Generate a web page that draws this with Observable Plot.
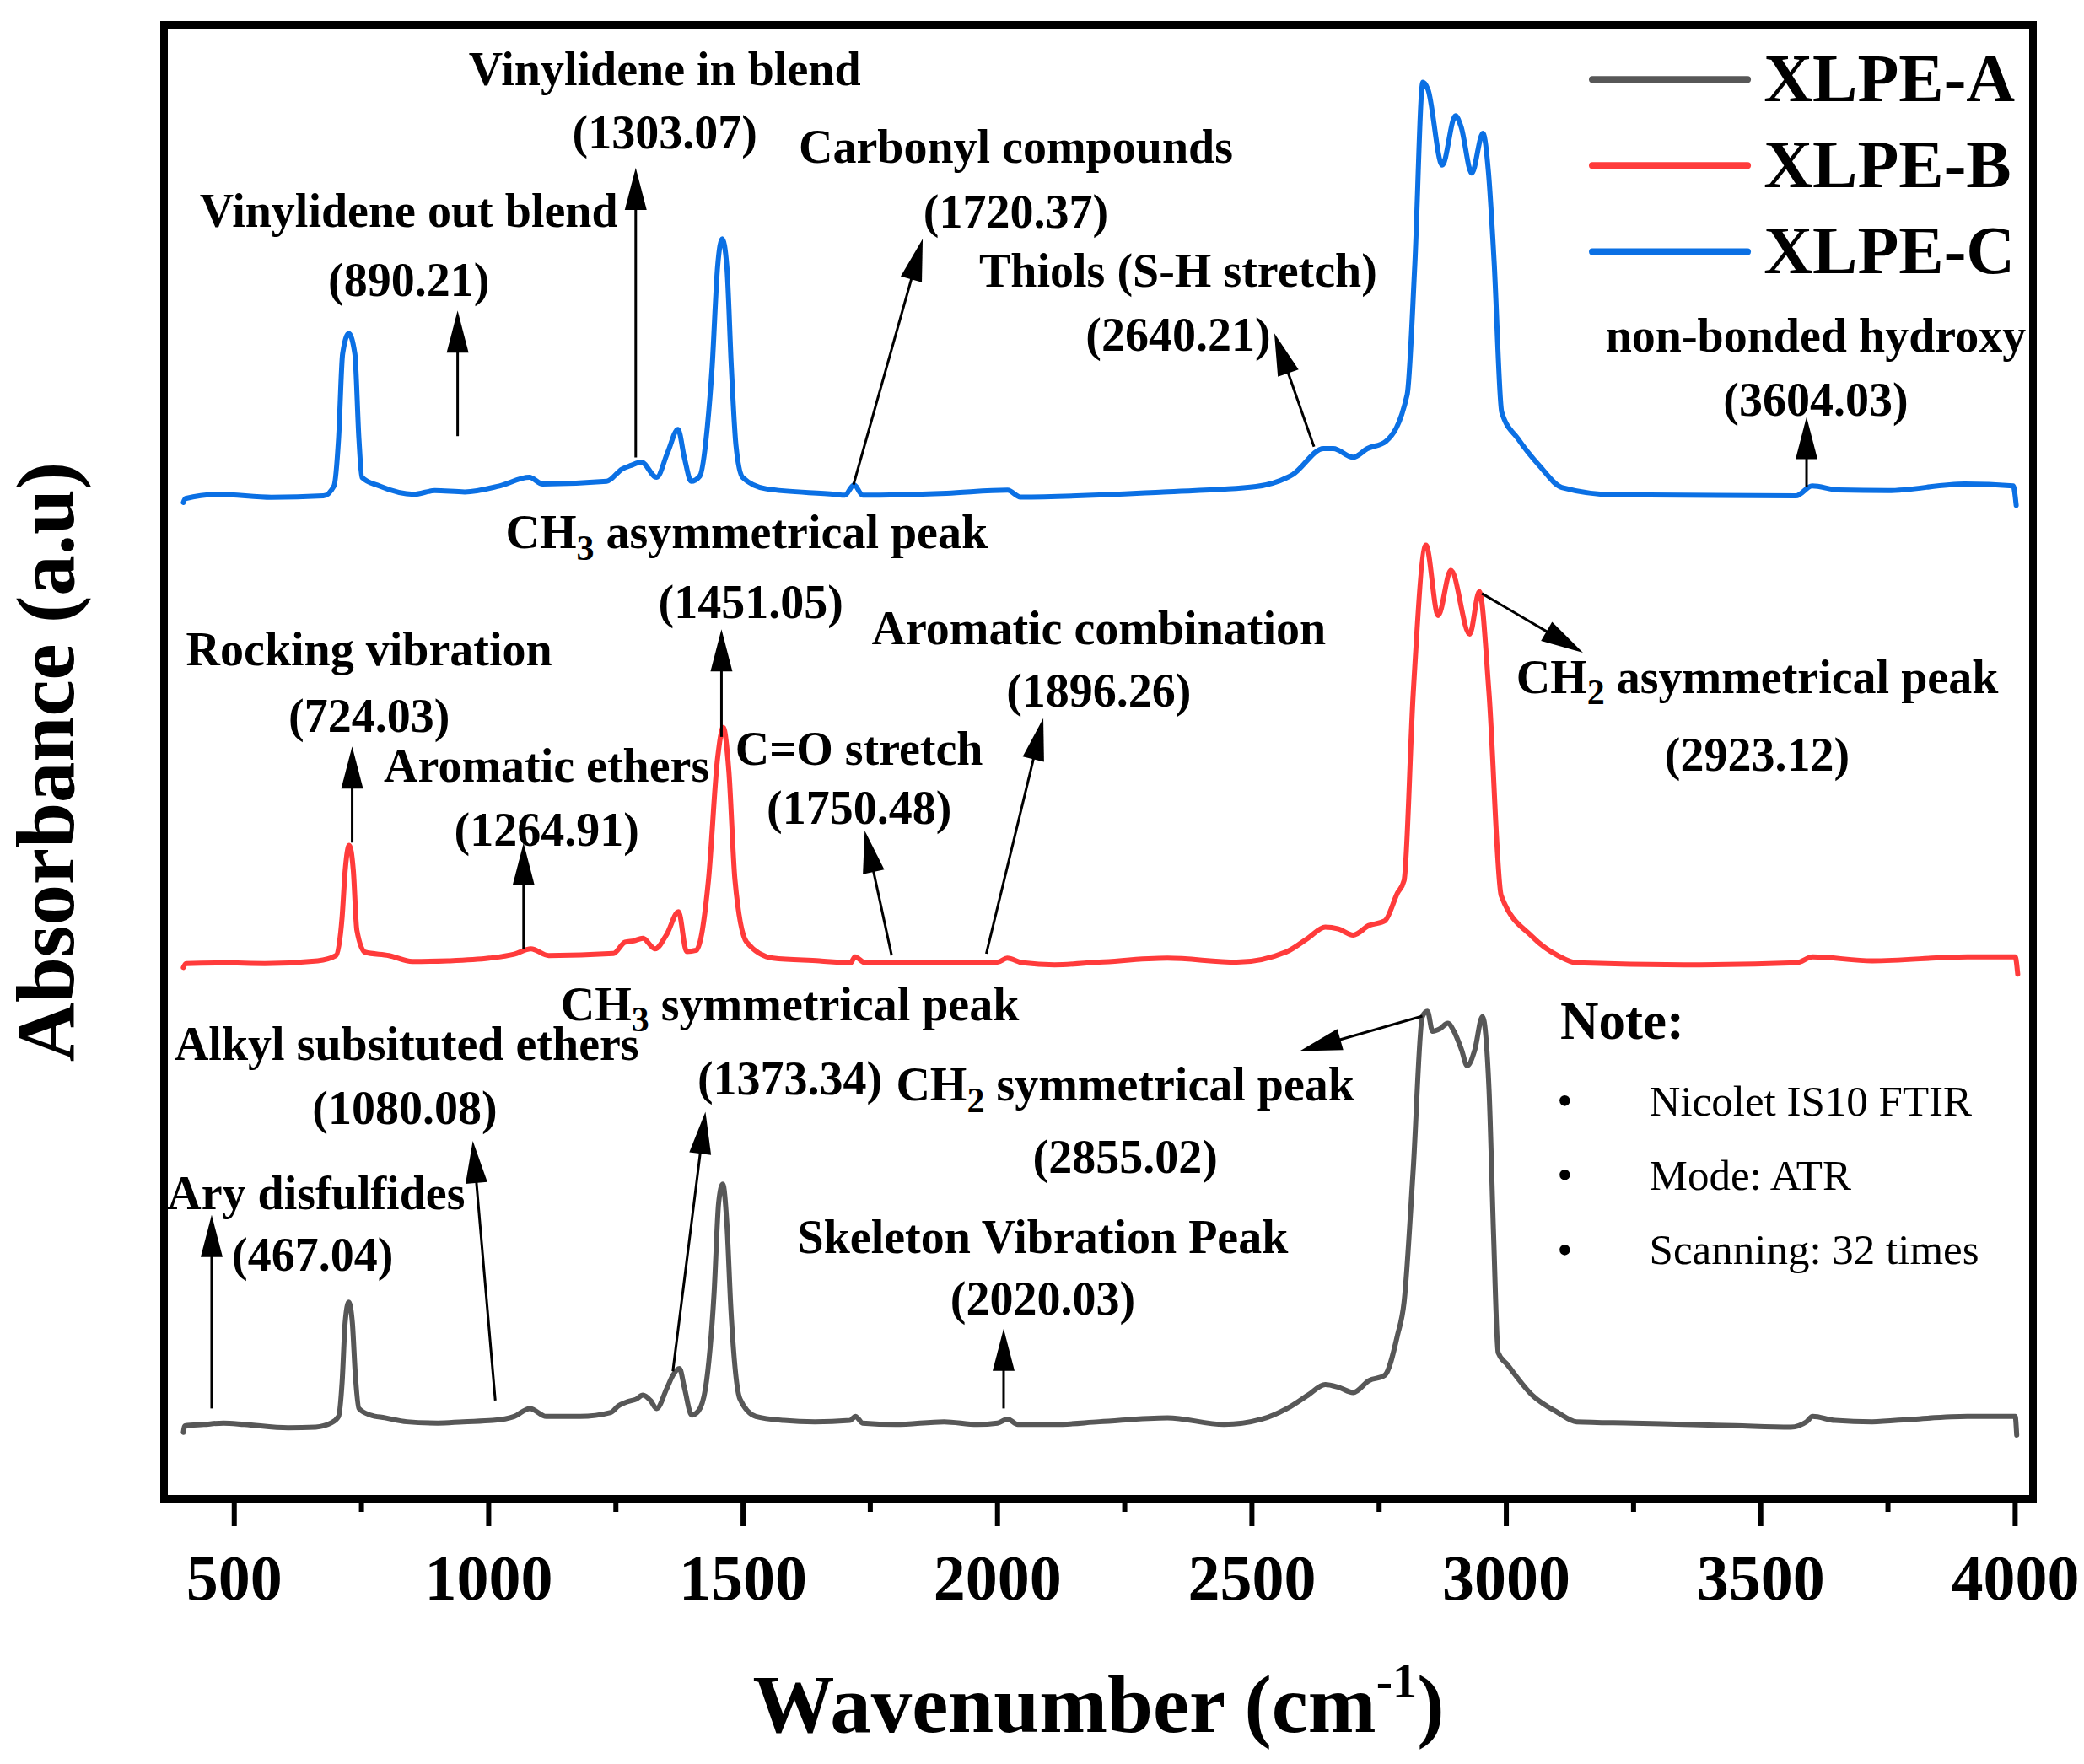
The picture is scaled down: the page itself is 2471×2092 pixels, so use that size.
<!DOCTYPE html>
<html>
<head>
<meta charset="utf-8">
<script src="https://cdn.jsdelivr.net/npm/d3@7"></script>
<script src="https://cdn.jsdelivr.net/npm/@observablehq/plot@0.6"></script>
<style>
  html, body { margin: 0; padding: 0; background: #ffffff; }
  #chart svg { display: block; }
</style>
</head>
<body>
<div id="chart"></div>
<script>
// ---------------- DATA ----------------
const seriesNames = ["XLPE-A", "XLPE-B", "XLPE-C"];
const seriesColors = ["#575757", "#ff3b3b", "#0b70e4"];

// XLPE-A (grey, bottom spectrum) : wavenumber (cm-1) and absorbance (a.u., offset)
const wnA = [400,403,440,479,520,606,660,690,705,712,718,725,732,738,745,768,796,839,900,950,1008,1050,1081,1113,1180,1240,1255,1272,1290,1303,1318,1330,1350,1362,1375,1385,1399,1412,1426,1443,1452,1460,1468,1476,1494,1525,1580,1641,1710,1721,1735,1800,1895,1960,2000,2020,2040,2112,2200,2334,2445,2520,2569,2610,2644,2670,2699,2730,2761,2786,2799,2817,2835,2845,2855,2870,2885,2897,2912,2923,2938,2953,2966,2975,2984,3002,3051,3101,3138,3250,3349,3450,3559,3590,3602,3646,3719,3800,3906,4000,4003];
const absA = [0.050,0.055,0.056,0.057,0.056,0.0535,0.054,0.057,0.062,0.088,0.133,0.148,0.133,0.093,0.068,0.063,0.061,0.058,0.057,0.058,0.059,0.062,0.068,0.062,0.062,0.065,0.070,0.073,0.075,0.078,0.074,0.068,0.083,0.093,0.098,0.083,0.063,0.066,0.083,0.155,0.223,0.237,0.208,0.143,0.075,0.062,0.059,0.058,0.059,0.062,0.057,0.056,0.058,0.056,0.057,0.060,0.056,0.056,0.058,0.061,0.056,0.060,0.068,0.078,0.086,0.084,0.080,0.089,0.093,0.123,0.148,0.248,0.363,0.367,0.352,0.354,0.358,0.352,0.338,0.326,0.338,0.363,0.308,0.198,0.110,0.101,0.078,0.065,0.058,0.057,0.056,0.055,0.054,0.058,0.062,0.059,0.058,0.060,0.062,0.062,0.048];

// XLPE-B (red, middle spectrum)
const wnB = [400,405,478,560,664,700,712,718,726,734,741,757,804,850,920,1001,1050,1083,1118,1245,1268,1285,1303,1327,1350,1373,1389,1408,1432,1450,1461,1472,1484,1507,1559,1650,1711,1720,1740,1897,2000,2019,2050,2112,2200,2334,2470,2569,2610,2644,2670,2699,2730,2761,2786,2799,2817,2842,2866,2891,2928,2947,2966,2990,3051,3101,3138,3349,3570,3602,3719,3906,4000,4005];
const absB = [0.400,0.403,0.4035,0.403,0.405,0.409,0.438,0.473,0.492,0.473,0.428,0.4115,0.409,0.4045,0.405,0.407,0.410,0.414,0.409,0.4105,0.419,0.420,0.422,0.414,0.425,0.442,0.412,0.413,0.466,0.558,0.5806,0.548,0.466,0.419,0.407,0.405,0.4035,0.408,0.4035,0.4035,0.404,0.407,0.4035,0.402,0.404,0.407,0.404,0.412,0.422,0.4304,0.429,0.4244,0.4316,0.435,0.456,0.4655,0.6064,0.718,0.665,0.699,0.651,0.683,0.6064,0.454,0.4232,0.409,0.4035,0.402,0.4035,0.408,0.405,0.408,0.408,0.395];

// XLPE-C (blue, top spectrum)
const wnC = [400,404,471,573,675,696,705,713,725,737,745,751,785,853,894,953,1021,1080,1106,1232,1262,1280,1300,1330,1352,1372,1385,1398,1415,1430,1439,1450,1459,1468,1477,1486,1499,1545,1681,1700,1718,1735,1900,2020,2045,2326,2508,2581,2641,2660,2699,2727,2763,2805,2820,2836,2846,2874,2900,2911,2932,2954,2965,2976,2991,3023,3066,3109,3216,3569,3601,3652,3750,3901,3996,4002];
const absC = [0.750,0.753,0.7562,0.754,0.755,0.7625,0.798,0.862,0.8772,0.862,0.798,0.769,0.7625,0.7562,0.759,0.758,0.7625,0.769,0.764,0.766,0.7752,0.778,0.7805,0.769,0.788,0.805,0.783,0.766,0.770,0.808,0.8513,0.928,0.9486,0.928,0.8513,0.793,0.769,0.7604,0.7562,0.7555,0.7634,0.7555,0.757,0.7593,0.7542,0.758,0.762,0.7713,0.7906,0.7906,0.7841,0.7906,0.796,0.831,0.928,1.0664,1.061,1.004,1.0412,1.033,0.998,1.028,0.998,0.9313,0.818,0.798,0.7773,0.7614,0.7558,0.755,0.7625,0.7595,0.759,0.764,0.7625,0.748];

// Axis ticks
const majorTicks = [500, 1000, 1500, 2000, 2500, 3000, 3500, 4000];
const minorTicks = [750, 1250, 1750, 2250, 2750, 3250, 3750];

// Annotations: band names and band positions (text)
const annNames = ["Vinylidene in blend", "Vinylidene out blend", "Carbonyl compounds", "Thiols (S-H stretch)", "non-bonded hydroxy", "CH3 asymmetrical peak", "Rocking vibration", "Aromatic ethers", "C=O stretch", "Aromatic combination", "CH2 asymmetrical peak", "CH3 symmetrical peak", "Alkyl subsituted ethers", "Ary disfulfides", "CH2 symmetrical peak", "Skeleton Vibration Peak"];
const annValues = ["(1303.07)", "(890.21)", "(1720.37)", "(2640.21)", "(3604.03)", "(1451.05)", "(724.03)", "(1264.91)", "(1750.48)", "(1896.26)", "(2923.12)", "(1373.34)", "(1080.08)", "(467.04)", "(2855.02)", "(2020.03)"];
// annotation layout in data coordinates [wavenumber, absorbance]
const annNamePos = [[1346,1.0754],[843,0.969],[2036,1.017],[2355,0.9236],[3608,0.875],[1507,0.727],[765,0.639],[1114,0.551],[1728,0.564],[2199,0.655],[3493,0.618],[1592,0.3716],[839,0.342],[661,0.2295],[2251,0.311],[2089,0.1965]];
const annValuePos = [[1346,1.028],[843,0.917],[2036,0.968],[2355,0.8755],[3608,0.827],[1515,0.6745],[765,0.589],[1114,0.503],[1728,0.5195],[2199,0.608],[3493,0.5595],[1592,0.316],[835,0.2933],[654,0.183],[2251,0.2565],[2089,0.150]];
const arrowTail = [[1289,0.784],[939,0.800],[1717,0.7635],[2622,0.792],[3590,0.762],[1457.5,0.5736],[731.7,0.494],[1068.6,0.414],[1792,0.409],[1978,0.4104],[2952,0.6815],[1362,0.096],[1013,0.074],[455.6,0.068],[2835,0.3634],[2012,0.068]];
const arrowTip  = [[1289,1.002],[939,0.8945],[1853,0.9486],[2544,0.8774],[3590,0.8145],[1457.5,0.6546],[731.7,0.5664],[1068.6,0.4937],[1739,0.503],[2090,0.5876],[3150.6,0.637],[1426,0.2914],[968.8,0.2695],[455.6,0.2137],[2594,0.337],[2012,0.128]];

// Note box
const noteTitle = "Note:";
const noteItems = ["Nicolet IS10 FTIR", "Mode: ATR", "Scanning: 32 times"];

// Titles
const xTitle = "Wavenumber (cm-1)";
const yTitle = "Absorbance (a.u)";

// ---------------- LAYOUT ----------------
const W = 2471, H = 2092, ML = 194, MR = 61, MT = 29, MB = 315;
const X0 = 362, X1 = 4035, Y0 = 0, Y1 = 1.1096;
const kx = (W - ML - MR) / (X1 - X0);
const ky = (H - MT - MB) / (Y1 - Y0);
const FONT = "'Liberation Serif', 'Times New Roman', Times, serif";

// spectra rows
const rows = [];
[[wnA, absA], [wnB, absB], [wnC, absC]].forEach(([wn, ab], s) => {
  wn.forEach((w, i) => rows.push({series: seriesNames[s], wn: w, abs: ab[i]}));
});

// annotation text rows
const annText = [];
annNames.forEach((n, i) => {
  annText.push({t: n, x: annNamePos[i][0], y: annNamePos[i][1]});
  annText.push({t: annValues[i], x: annValuePos[i][0], y: annValuePos[i][1]});
});

// arrows: shafts + filled triangular heads (computed in pixel space, expressed in data space)
const headLen = 50, headHalf = 13;
const shafts = [], heads = [];
arrowTail.forEach(([x1, y1], i) => {
  const [x2, y2] = arrowTip[i];
  const dxp = (x2 - x1) * kx, dyp = -(y2 - y1) * ky;
  const L = Math.hypot(dxp, dyp);
  const ux = dxp / L, uy = dyp / L;
  const bx = -ux * headLen, by = -uy * headLen;
  const nx = -uy, ny = ux;
  [[0, 0], [bx + nx * headHalf, by + ny * headHalf], [bx - nx * headHalf, by - ny * headHalf]]
    .forEach(([px, py]) => heads.push({id: i, x: x2 + px / kx, y: y2 - py / ky}));
  shafts.push({x1, y1, x2: x2 + (bx * 0.7) / kx, y2: y2 - (by * 0.7) / ky});
});

// legend rows
const legendRows = seriesNames.map((n, i) => ({name: n, color: seriesColors[i], y: 1.0685 - i * 0.0648}));

// note rows
const noteRows = noteItems.map((t, i) => ({t, y: 0.2989 - i * 0.0560}));

const plot = Plot.plot({
  width: W, height: H,
  marginLeft: ML, marginRight: MR, marginTop: MT, marginBottom: MB,
  style: {fontFamily: FONT, background: "#ffffff", color: "#000000"},
  x: {domain: [X0, X1]},
  y: {domain: [Y0, Y1], axis: null},
  color: {domain: seriesNames, range: seriesColors},
  marks: [
    Plot.axisX({ticks: minorTicks, tickSize: 16, tickFormat: () => "", strokeWidth: 6, label: null}),
    Plot.axisX({ticks: majorTicks, tickSize: 33, tickPadding: 33, strokeWidth: 6, fontSize: 76, fontWeight: "bold", tickFormat: d => String(d), label: null}),
    Plot.line(rows, {x: "wn", y: "abs", z: "series", stroke: "series", strokeWidth: 6, curve: "monotone-x", strokeLinejoin: "round", strokeLinecap: "round"}),
    Plot.link(shafts, {x1: "x1", y1: "y1", x2: "x2", y2: "y2", stroke: "black", strokeWidth: 3}),
    Plot.line(heads, {x: "x", y: "y", z: "id", fill: "black", stroke: "none"}),
    Plot.text(annText, {x: "x", y: "y", text: "t", fontSize: 56, fontWeight: "bold", fill: "black", textAnchor: "middle", lineAnchor: "middle"}),
    Plot.link(legendRows, {x1: 3169, x2: 3474, y1: "y", y2: "y", stroke: "color", strokeWidth: 8, strokeLinecap: "round"}),
    Plot.text(legendRows, {x: 3506, y: "y", text: "name", fontSize: 80, fontWeight: "bold", fill: "black", textAnchor: "start", lineAnchor: "middle"}),
    Plot.text([noteTitle], {x: 3106, y: 0.359, text: d => d, fontSize: 63, fontWeight: "bold", textAnchor: "start", lineAnchor: "middle"}),
    Plot.text(noteRows, {x: 3115, y: "y", text: () => "\u2022", fontSize: 52, textAnchor: "middle", lineAnchor: "middle"}),
    Plot.text(noteRows, {x: 3281, y: "y", text: "t", fontSize: 51, textAnchor: "start", lineAnchor: "middle"}),
    Plot.text([xTitle], {frameAnchor: "bottom", dy: 245, text: d => d, fontSize: 97, fontWeight: "bold", textAnchor: "middle", lineAnchor: "middle"}),
    Plot.text([yTitle], {frameAnchor: "left", dx: -139, rotate: -90, text: d => d, fontSize: 97, fontWeight: "bold", textAnchor: "middle", lineAnchor: "middle"}),
    Plot.frame({stroke: "black", strokeWidth: 9})
  ]
});

// ---------- typographic touches: sub/superscripts ----------
const SVGNS = "http://www.w3.org/2000/svg";
function tspan(parent, str, attrs) {
  const t = document.createElementNS(SVGNS, "tspan");
  t.textContent = str;
  if (attrs) Object.entries(attrs).forEach(([k, v]) => t.setAttribute(k, v));
  parent.appendChild(t);
  return t;
}
function fontSizeOf(el) {
  let n = el;
  while (n && n.getAttribute) {
    const fs = n.getAttribute("font-size");
    if (fs) return parseFloat(fs);
    n = n.parentNode;
  }
  return 56;
}
plot.querySelectorAll("text").forEach(t => {
  if (t.querySelector("tspan")) return;
  const s = t.textContent;
  const m = s.match(/^CH([23])( .*)$/);
  if (m) {
    const fs = fontSizeOf(t);
    t.textContent = "";
    tspan(t, "CH");
    tspan(t, m[1], {"font-size": (fs * 0.75) + "px", dy: (fs * 0.24) + "px"});
    tspan(t, m[2], {dy: (-fs * 0.24) + "px"});
  } else if (s === xTitle) {
    const fs = fontSizeOf(t);
    t.textContent = "";
    tspan(t, "Wavenumber (cm");
    tspan(t, "-1", {"font-size": (fs * 0.6) + "px", dy: (-fs * 0.42) + "px"});
    tspan(t, ")", {dy: (fs * 0.42) + "px"});
  }
});
plot.querySelectorAll('g[aria-label="x-axis tick label"]').forEach(g => g.setAttribute("font-weight", "bold"));

document.getElementById("chart").append(plot);
</script>
</body>
</html>
